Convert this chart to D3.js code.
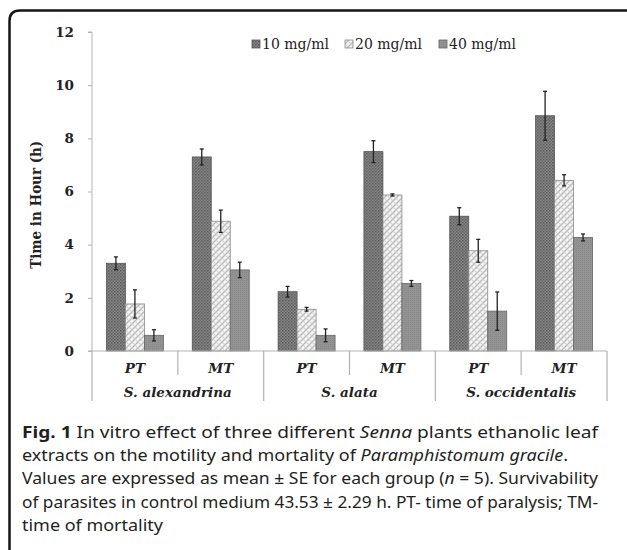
<!DOCTYPE html>
<html>
<head>
<meta charset="utf-8">
<script src="https://cdn.jsdelivr.net/npm/d3@7"></script>
<style>
  body { margin: 0; background: #fff; }
  svg { display: block; }
</style>
</head>
<body>
<div id="chart-area"></div>
<script>
// data
var species = ["S. alexandrina", "S. alata", "S. occidentalis"];
var times = ["PT", "MT"];
var doses = ["10 mg/ml", "20 mg/ml", "40 mg/ml"];
var yTicks = [0, 2, 4, 6, 8, 10, 12];

// mean values, one row per species x time (PT, MT)
var dose10 = [3.30, 7.30, 2.23, 7.50, 5.07, 8.85];
var dose20 = [1.77, 4.88, 1.57, 5.87, 3.77, 6.42];
var dose40 = [0.59, 3.05, 0.59, 2.54, 1.50, 4.27];
// standard errors
var se10 = [0.24, 0.30, 0.20, 0.41, 0.32, 0.92];
var se20 = [0.53, 0.42, 0.07, 0.04, 0.43, 0.21];
var se40 = [0.21, 0.29, 0.24, 0.11, 0.72, 0.13];

var captionLines = [
  [{t: "Fig. 1", b: true}, {t: " In vitro effect of three different "}, {t: "Senna", i: true}, {t: " plants ethanolic leaf"}],
  [{t: "extracts on the motility and mortality of "}, {t: "Paramphistomum gracile", i: true}, {t: "."}],
  [{t: "Values are expressed as mean \u00b1 SE for each group ("}, {t: "n", i: true}, {t: " = 5). Survivability"}],
  [{t: "of parasites in control medium 43.53 \u00b1 2.29 h. PT- time of paralysis; TM-"}],
  [{t: "time of mortality"}]
];
var captionWidths = [576, 546, 576, 576, 141];

var W = 627, H = 550;
var svg = d3.select("#chart-area").append("svg")
    .attr("width", W).attr("height", H);

// patterns for the three doses
var defs = svg.append("defs");
var p10 = defs.append("pattern").attr("id", "p10")
    .attr("patternUnits", "userSpaceOnUse").attr("width", 3).attr("height", 3);
p10.append("rect").attr("width", 3).attr("height", 3).attr("fill", "#858585");
p10.append("rect").attr("width", 1.5).attr("height", 1.5).attr("fill", "#5e5e5e");
p10.append("rect").attr("x", 1.5).attr("y", 1.5).attr("width", 1.5).attr("height", 1.5).attr("fill", "#6a6a6a");

var p20 = defs.append("pattern").attr("id", "p20")
    .attr("patternUnits", "userSpaceOnUse").attr("width", 6).attr("height", 6);
p20.append("rect").attr("width", 6).attr("height", 6).attr("fill", "#f6f6f6");
p20.append("path").attr("d", "M0,6 L6,0 M-1,1 L1,-1 M5,7 L7,5")
    .attr("stroke", "#b8b8b8").attr("stroke-width", 1.4);
p20.append("path").attr("d", "M0,0 L6,6 M5,-1 L7,1 M-1,5 L1,7")
    .attr("stroke", "#d2d2d2").attr("stroke-width", 1.1);

var p40 = defs.append("pattern").attr("id", "p40")
    .attr("patternUnits", "userSpaceOnUse").attr("width", 2).attr("height", 2);
p40.append("rect").attr("width", 2).attr("height", 2).attr("fill", "#939393");
p40.append("rect").attr("width", 1).attr("height", 1).attr("fill", "#888888");

// frame
svg.append("path")
    .attr("d", "M9.5,552 L9.5,21 Q9.5,10.5 20,10.5 L630,10.5")
    .attr("fill", "none").attr("stroke", "#151515").attr("stroke-width", 2.5);

var serif = "'DejaVu Serif', serif";

// scales
var cats = [];
species.forEach(function(s){ times.forEach(function(t){ cats.push(s + "|" + t); }); });

var x0 = d3.scaleBand().domain(cats).range([92, 607]).paddingInner(0).paddingOuter(0);
var x1 = d3.scaleBand().domain(doses).range([0, x0.bandwidth()]).paddingInner(0).paddingOuter(0.76);
var y = d3.scaleLinear().domain([0, 12]).range([351, 32]);

var colours = d3.scaleOrdinal().domain(doses).range(["url(#p10)", "url(#p20)", "url(#p40)"]);
var strokes = d3.scaleOrdinal().domain(doses).range(["#555", "#8a8a8a", "#666"]);

var means = [dose10, dose20, dose40];
var ses = [se10, se20, se40];
var bars = [];
cats.forEach(function(c, ci){
  doses.forEach(function(d, di){
    bars.push({cat: c, dose: d, v: means[di][ci], se: ses[di][ci]});
  });
});

// y axis
var yAxis = d3.axisLeft(y).tickValues(yTicks).tickSize(4).tickPadding(14).tickFormat(d3.format("d"));
var yg = svg.append("g").attr("transform", "translate(92,0)").call(yAxis);
yg.select(".domain").attr("stroke", "#b3b3b3").attr("d", "M-4," + y(12) + "H0V" + y(0));
yg.selectAll(".tick line").attr("stroke", "#b3b3b3");
yg.selectAll(".tick text")
    .attr("font-family", serif).attr("font-weight", "bold").attr("font-size", 13.5).attr("fill", "#222");

svg.append("text")
    .attr("transform", "translate(41," + y(5.5) + ") rotate(-90)")
    .attr("text-anchor", "middle")
    .attr("font-family", serif).attr("font-weight", "bold").attr("font-size", 15)
    .attr("fill", "#222")
    .attr("textLength", 128).attr("lengthAdjust", "spacingAndGlyphs")
    .text("Time in Hour (h)");

// bars
var g = svg.append("g");
g.selectAll("rect.bar")
    .data(bars)
    .enter().append("rect")
    .attr("class", "bar")
    .attr("x", function(d){ return x0(d.cat) + x1(d.dose); })
    .attr("y", function(d){ return y(d.v); })
    .attr("width", x1.bandwidth())
    .attr("height", function(d){ return y(0) - y(d.v); })
    .attr("fill", function(d){ return colours(d.dose); })
    .attr("stroke", function(d){ return strokes(d.dose); })
    .attr("stroke-width", 0.8);

// error bars
var eb = g.selectAll("g.err").data(bars).enter().append("g").attr("class", "err")
    .attr("transform", function(d){ return "translate(" + (x0(d.cat) + x1(d.dose) + x1.bandwidth() / 2) + ",0)"; });
eb.append("line")
    .attr("y1", function(d){ return y(d.v + d.se); })
    .attr("y2", function(d){ return y(d.v - d.se); })
    .attr("stroke", "#222").attr("stroke-width", 1.3);
eb.append("line").attr("x1", -2).attr("x2", 2)
    .attr("y1", function(d){ return y(d.v + d.se); })
    .attr("y2", function(d){ return y(d.v + d.se); })
    .attr("stroke", "#222").attr("stroke-width", 1.3);
eb.append("line").attr("x1", -2).attr("x2", 2)
    .attr("y1", function(d){ return y(d.v - d.se); })
    .attr("y2", function(d){ return y(d.v - d.se); })
    .attr("stroke", "#222").attr("stroke-width", 1.3);

// x axis, two levels
var xg = svg.append("g");
xg.append("line").attr("x1", 88).attr("x2", 607).attr("y1", y(0)).attr("y2", y(0))
    .attr("stroke", "#b3b3b3").attr("stroke-width", 1.2);
cats.forEach(function(c, i){
  var left = x0(c);
  var long = (i % 2 === 0);
  xg.append("line").attr("x1", left).attr("x2", left)
      .attr("y1", y(0)).attr("y2", long ? 401 : 375)
      .attr("stroke", "#b3b3b3").attr("stroke-width", 1.2);
  xg.append("text")
      .attr("x", left + x0.bandwidth() / 2).attr("y", 373)
      .attr("text-anchor", "middle")
      .attr("font-family", serif).attr("font-weight", "bold").attr("font-style", "italic")
      .attr("font-size", 13.5).attr("fill", "#222")
      .text(c.split("|")[1]);
});
xg.append("line").attr("x1", 607).attr("x2", 607).attr("y1", y(0)).attr("y2", 401)
    .attr("stroke", "#b3b3b3").attr("stroke-width", 1.2);
species.forEach(function(s){
  var a = x0(s + "|PT"), b = x0(s + "|MT") + x0.bandwidth();
  xg.append("text")
      .attr("x", (a + b) / 2).attr("y", 397)
      .attr("text-anchor", "middle")
      .attr("font-family", serif).attr("font-weight", "bold").attr("font-style", "italic")
      .attr("font-size", 13.5).attr("fill", "#222")
      .text(s);
});

// legend
var legendX = [252, 345, 439];
var legend = svg.append("g").attr("transform", "translate(0,44)");
doses.forEach(function(d, i){
  var row = legend.append("g").attr("transform", "translate(" + legendX[i] + ",0)");
  row.append("rect").attr("x", 0).attr("y", -4).attr("width", 8).attr("height", 8)
      .attr("fill", colours(d)).attr("stroke", strokes(d)).attr("stroke-width", 0.8);
  row.append("text").attr("x", 10).attr("y", 5)
      .attr("font-family", serif).attr("font-size", 14).attr("fill", "#222")
      .text(d);
});

// caption
var cap = svg.append("g").attr("font-family", "'Noto Sans', sans-serif").attr("font-size", 16.5).attr("fill", "#231f20");
captionLines.forEach(function(line, i){
  var t = cap.append("text").attr("x", 22).attr("y", 438 + i * 23.2)
      .attr("textLength", captionWidths[i]).attr("lengthAdjust", "spacingAndGlyphs");
  line.forEach(function(part){
    t.append("tspan")
        .attr("font-weight", part.b ? "bold" : null)
        .attr("font-style", part.i ? "italic" : null)
        .text(part.t);
  });
});
</script>
</body>
</html>
